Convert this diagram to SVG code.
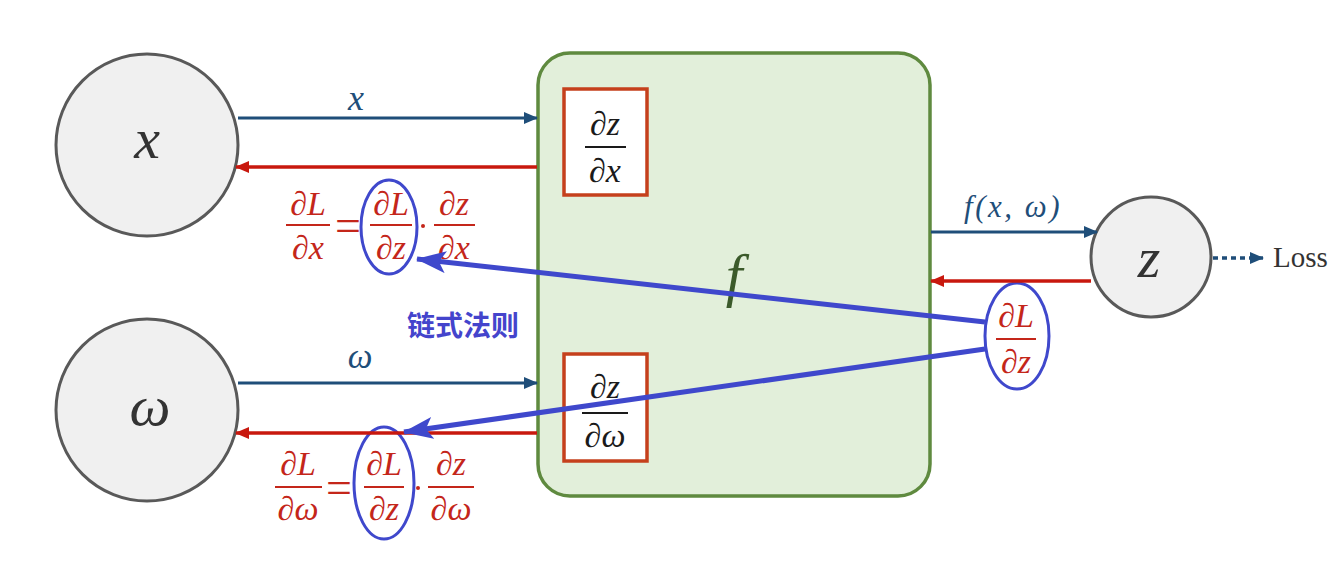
<svg xmlns="http://www.w3.org/2000/svg" width="1341" height="562" viewBox="0 0 1341 562">
<style>
.circ{fill:#f0f0f0;stroke:#595959;stroke-width:3}
.m{font-family:"Liberation Serif","DejaVu Serif",serif;font-style:italic}
.big{font-size:58px;fill:#333333}
.blk{font-size:34px;fill:#1a1a1a}
.red{font-size:34px;fill:#c4261a}
.eq{font-family:"Liberation Serif",serif;font-size:46px;fill:#c4261a}
.bl{fill:#1f4e79}
.fw{stroke:#1f4e79;stroke-width:3;fill:none}
.bw{stroke:#c8180e;stroke-width:3.5;fill:none}
.ch{stroke:#3f48cc;stroke-width:5;fill:none}
.ell{fill:none;stroke:#3f48cc;stroke-width:3}
.fl{stroke-width:2}
</style>
<defs>
<marker id="ab" markerUnits="userSpaceOnUse" markerWidth="14" markerHeight="12" refX="13" refY="6" orient="auto"><path d="M0,0 L14,6 L0,12 z" fill="#1f4e79"/></marker>
<marker id="ar" markerUnits="userSpaceOnUse" markerWidth="14" markerHeight="12" refX="13" refY="6" orient="auto"><path d="M0,0 L14,6 L0,12 z" fill="#c8180e"/></marker>
<marker id="ac" markerUnits="userSpaceOnUse" markerWidth="30" markerHeight="22" refX="29" refY="11" orient="auto"><path d="M0,0 L30,11 L0,22 L7,11 z" fill="#3f48cc"/></marker>
</defs>
<rect width="1341" height="562" fill="#ffffff"/>

<g id="node-x">
<circle class="circ" cx="147" cy="145" r="91"/>
<text class="m big" x="147" y="158" text-anchor="middle">x</text>
</g>
<g id="node-w">
<circle class="circ" cx="147" cy="410" r="91"/>
<text class="m big" x="150" y="425" text-anchor="middle">ω</text>
</g>
<g id="node-f">
<rect x="538" y="53" width="392" height="443" rx="32" fill="#e2efda" stroke="#5f8a3f" stroke-width="3.5"/>
<text class="m" x="734" y="295" text-anchor="middle" font-size="60" fill="#3b5a2a">f</text>
<g id="box-dzdx">
<rect x="564" y="89" width="83" height="106" fill="#ffffff" stroke="#c5401c" stroke-width="3.5"/>
<text class="m blk" x="605" y="135" text-anchor="middle">∂z</text>
<line x1="585" y1="147" x2="626" y2="147" stroke="#1a1a1a" class="fl"/>
<text class="m blk" x="605" y="182" text-anchor="middle">∂x</text>
</g>
<g id="box-dzdw">
<rect x="564" y="354" width="83" height="107" fill="#ffffff" stroke="#c5401c" stroke-width="3.5"/>
<text class="m blk" x="605" y="398" text-anchor="middle">∂z</text>
<line x1="582" y1="413" x2="628" y2="413" stroke="#1a1a1a" class="fl"/>
<text class="m blk" x="605" y="447" text-anchor="middle">∂ω</text>
</g>
</g>
<g id="node-z">
<circle class="circ" cx="1151" cy="257" r="60"/>
<text class="m big" x="1149" y="277" text-anchor="middle">z</text>
</g>
<g id="node-loss">
<text x="1273" y="267" font-family="Liberation Serif,serif" font-size="29" fill="#333333">Loss</text>
</g>

<g id="formula-x">
<text class="m red" x="308" y="215" text-anchor="middle">∂L</text>
<line x1="286" y1="225" x2="330" y2="225" stroke="#c4261a" class="fl"/>
<text class="m red" x="308" y="259" text-anchor="middle">∂x</text>
<text class="eq" x="348" y="241" text-anchor="middle">=</text>
<text class="m red" x="391" y="215" text-anchor="middle">∂L</text>
<line x1="370" y1="225" x2="412" y2="225" stroke="#c4261a" class="fl"/>
<text class="m red" x="391" y="259" text-anchor="middle">∂z</text>
<circle cx="423" cy="226" r="2" fill="#c4261a"/>
<text class="m red" x="454" y="215" text-anchor="middle">∂z</text>
<line x1="434" y1="225" x2="475" y2="225" stroke="#c4261a" class="fl"/>
<text class="m red" x="454" y="259" text-anchor="middle">∂x</text>
<ellipse class="ell" cx="389" cy="227" rx="28" ry="47"/>
</g>
<g id="formula-w">
<text class="m red" x="298" y="475" text-anchor="middle">∂L</text>
<line x1="275" y1="487" x2="322" y2="487" stroke="#c4261a" class="fl"/>
<text class="m red" x="298" y="520" text-anchor="middle">∂ω</text>
<text class="eq" x="339" y="503" text-anchor="middle">=</text>
<text class="m red" x="384" y="475" text-anchor="middle">∂L</text>
<line x1="364" y1="487" x2="404" y2="487" stroke="#c4261a" class="fl"/>
<text class="m red" x="384" y="520" text-anchor="middle">∂z</text>
<circle cx="418" cy="488" r="2" fill="#c4261a"/>
<text class="m red" x="451" y="475" text-anchor="middle">∂z</text>
<line x1="428" y1="487" x2="474" y2="487" stroke="#c4261a" class="fl"/>
<text class="m red" x="451" y="520" text-anchor="middle">∂ω</text>
<ellipse class="ell" cx="384" cy="483" rx="30" ry="56"/>
</g>
<g id="formula-z">
<text class="m red" x="1016" y="327" text-anchor="middle">∂L</text>
<line x1="996" y1="339" x2="1036" y2="339" stroke="#c4261a" class="fl"/>
<text class="m red" x="1016" y="373" text-anchor="middle">∂z</text>
<ellipse class="ell" cx="1017" cy="336" rx="32" ry="53"/>
</g>
<g id="label-chain">
<text x="407" y="336" font-family="Noto Sans CJK SC,sans-serif" font-weight="bold" font-size="28" fill="#4444cc">链式法则</text>
</g>

<g id="connectors">
<line class="fw" x1="238" y1="118" x2="537" y2="118" marker-end="url(#ab)"/>
<text class="m bl" x="356" y="110" text-anchor="middle" font-size="36">x</text>
<line class="bw" x1="537" y1="167" x2="236" y2="167" marker-end="url(#ar)"/>
<line class="fw" x1="238" y1="383" x2="537" y2="383" marker-end="url(#ab)"/>
<text class="m bl" x="360" y="368" text-anchor="middle" font-size="35">ω</text>
<line class="bw" x1="537" y1="433" x2="236" y2="433" marker-end="url(#ar)"/>
<line class="fw" x1="931" y1="232" x2="1097" y2="232" marker-end="url(#ab)"/>
<text class="m bl" x="1013" y="217" text-anchor="middle" font-size="31" letter-spacing="2.5">f(x, ω)</text>
<line class="bw" x1="1091" y1="281" x2="931" y2="281" marker-end="url(#ar)"/>
<line x1="1213" y1="258" x2="1263" y2="258" stroke="#1f4e79" stroke-width="3.5" stroke-dasharray="5 4" marker-end="url(#ab)"/>
<line class="ch" x1="985" y1="322" x2="417" y2="259" marker-end="url(#ac)"/>
<line class="ch" x1="985" y1="349" x2="404" y2="432" marker-end="url(#ac)"/>
</g>
</svg>
